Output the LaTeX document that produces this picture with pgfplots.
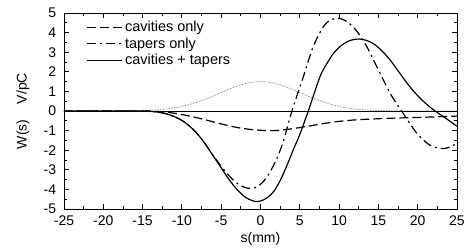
\documentclass[border=0pt]{standalone}
\usepackage{fontspec}
\setmainfont{Liberation Sans}
\usepackage{pgfplots}
\pgfplotsset{compat=1.18}
\begin{document}
\begin{tikzpicture}[font=\fontsize{14}{16}\selectfont]
\path[use as bounding box] (-64pt,-40pt) rectangle (400pt,209pt);
\begin{axis}[
  at={(0,0)}, anchor=south west,
  scale only axis,
  width=393pt, height=196pt,
  xmin=-25, xmax=25, ymin=-5, ymax=5,
  xtick={-25,-20,...,25}, ytick={-5,-4,...,5},
  minor x tick num=1, minor y tick num=1,
  tick align=inside,
  major tick length=5pt, minor tick length=3pt,
  axis line style={line width=0.9pt},
  every tick/.style={line width=0.8pt, black},
  /pgf/number format/assume math mode=true,
  ticklabel style={font=\fontsize{14}{16}\selectfont},
  yticklabel style={xshift=-4.3pt},
  xticklabel style={yshift=-3.3pt},
  label style={font=\fontsize{14}{16}\selectfont},
  xlabel={s(mm)},
  ylabel={W(s)\hspace{1.1em}V/pC},
  xlabel style={at={(axis description cs:0.5,-0.153)}, anchor=center},
  ylabel style={at={(axis description cs:-0.104,0.5)}, anchor=center},
  legend style={at={(axis description cs:0.055,0.975)}, anchor=north west, draw=none, fill=none,
    font=\fontsize{14.5}{16.5}\selectfont, row sep=0.5pt, inner sep=1pt},
  legend cell align=left,
  legend image code/.code={\draw[#1] (0pt,0pt) -- (35pt,0pt);},
]
\addplot[black, line width=1.2pt, dash pattern=on 9pt off 4pt, smooth, tension=0.5] coordinates {
(-25,0) (-15,0) (-13,-0.03) (-11,-0.11) (-9,-0.26) (-7,-0.45) (-5,-0.66) (-3,-0.84) (-1.3,-0.94) (0.3,-0.99) (1.8,-1.0) (3.2,-0.95) (4.6,-0.87) (6.3,-0.76) (8,-0.64) (10,-0.53) (12.2,-0.45) (16.5,-0.37) (20.7,-0.32) (25,-0.26)
};
\addlegendentry{cavities only}
\addplot[black, line width=1.2pt, dash pattern=on 9pt off 4pt on 2pt off 4pt, smooth, tension=0.5] coordinates {
(-25,0) (-15,0) (-14,-0.02) (-13,-0.06) (-12,-0.14) (-11,-0.28) (-10,-0.48) (-9,-0.78) (-8,-1.18) (-7,-1.7) (-6,-2.28) (-5,-2.82) (-4,-3.3) (-3,-3.68) (-2,-3.9) (-1.2,-3.95) (-0.3,-3.84) (0.8,-3.38) (2,-2.5) (2.9,-1.55) (4,0) (5.45,1.75) (6.7,3.28) (8,4.3) (9,4.66) (10,4.73) (11,4.56) (12.2,4.1) (13.5,3.3) (14.8,2.26) (16.5,0.9) (18.2,-0.15) (19.9,-1.14) (21.5,-1.73) (23,-1.92) (24,-1.85) (25,-1.65)
};
\addlegendentry{tapers only}
\addplot[black, line width=1.2pt, smooth, tension=0.5] coordinates {
(-25,0) (-15,0) (-14,-0.02) (-13,-0.06) (-12,-0.14) (-11,-0.28) (-10,-0.48) (-9,-0.78) (-8,-1.18) (-7,-1.7) (-6,-2.3) (-5,-2.9) (-4,-3.5) (-3,-4.0) (-2,-4.38) (-1,-4.58) (-0.4,-4.62) (0.3,-4.55) (1,-4.38) (1.7,-4.1) (2.5,-3.55) (3.3,-2.84) (4.2,-1.95) (5,-1.2) (6.08,0) (7.57,1.75) (8.5,2.45) (9.3,2.95) (10.3,3.35) (11.4,3.6) (12.5,3.67) (13.5,3.6) (14.5,3.4) (15.5,3.05) (16.5,2.6) (17.5,2.05) (18.5,1.5) (19.5,1.0) (20.5,0.58) (21.5,0.22) (22.5,-0.08) (23.5,-0.35) (24.3,-0.58) (25,-0.78)
};
\addlegendentry{cavities + tapers}
\addplot[black!70, line width=0.6pt, densely dotted, smooth, forget plot] coordinates {
(-25,0) (-20,0.001) (-18,0.004) (-16,0.013) (-15,0.023) (-14,0.040) (-13,0.066) (-12,0.104) (-11,0.160) (-10,0.236) (-9,0.335) (-8,0.459) (-7,0.605) (-6,0.770) (-5,0.944) (-4,1.115) (-3,1.269) (-2,1.393) (-1,1.4725) (0,1.5) (1,1.4725) (2,1.393) (3,1.269) (4,1.115) (5,0.944) (6,0.770) (7,0.605) (8,0.459) (9,0.335) (10,0.236) (11,0.160) (12,0.104) (13,0.066) (14,0.040) (15,0.023) (16,0.013) (18,0.004) (20,0.001) (25,0)
};
\addplot[black, line width=0.8pt, forget plot] coordinates {(-25,0) (25,0)};
\end{axis}
\end{tikzpicture}
\end{document}
